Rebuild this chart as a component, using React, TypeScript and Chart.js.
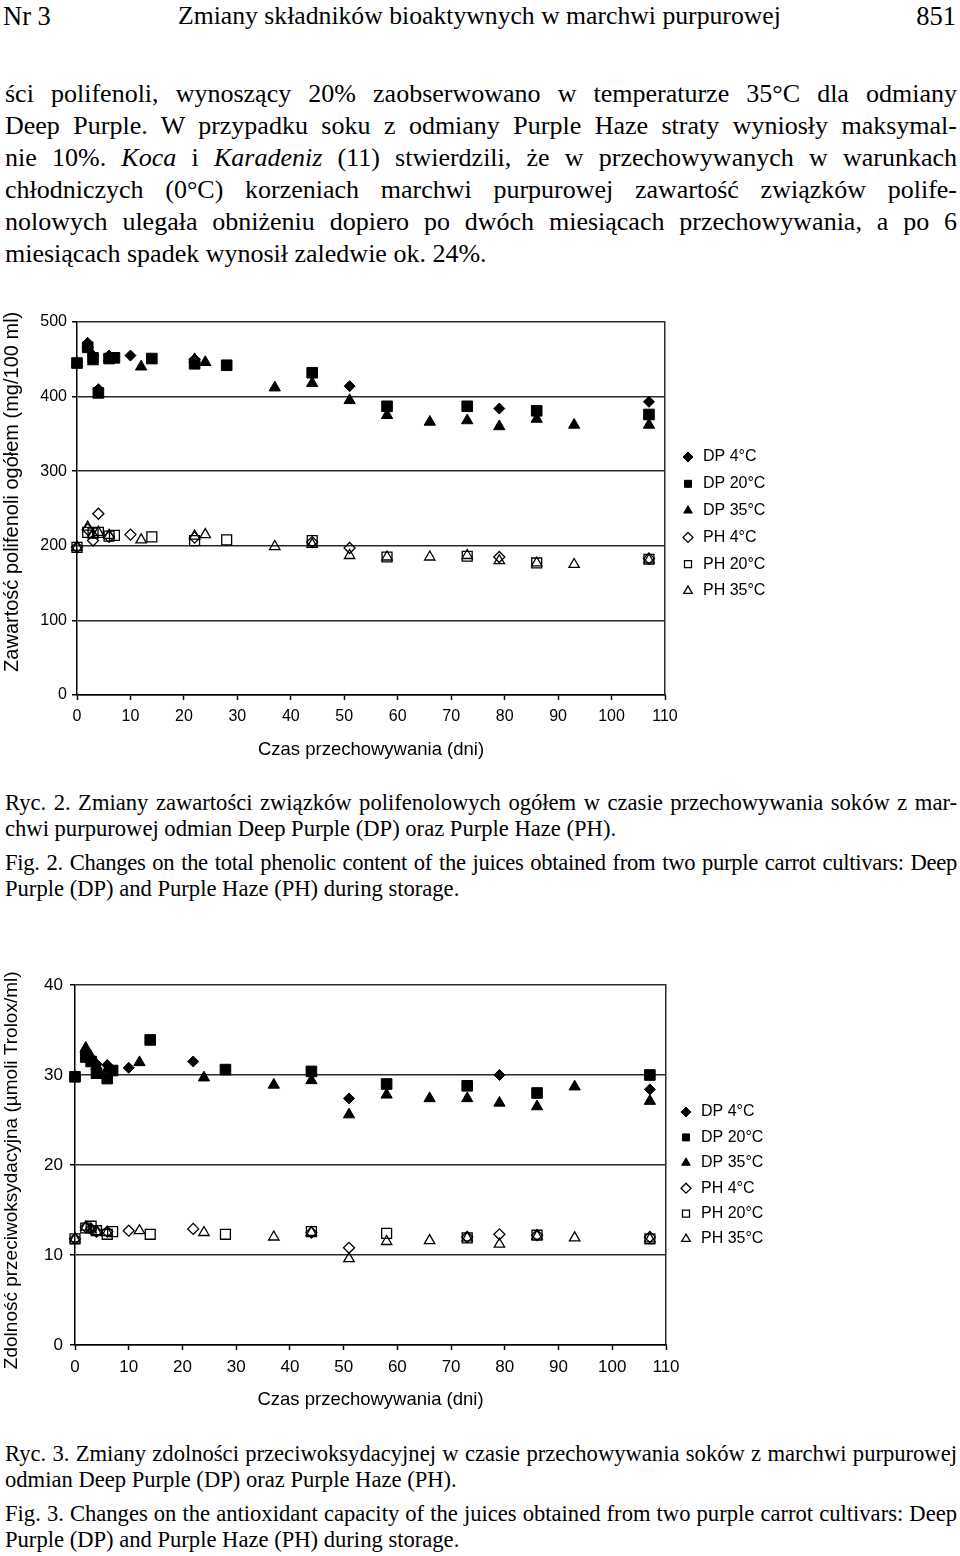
import { useEffect, useRef } from 'react';
import { Chart, registerables } from 'chart.js';

Chart.register(...registerables);

// ---------- data ----------
const SERIES_LABELS = ['DP 4°C', 'DP 20°C', 'DP 35°C', 'PH 4°C', 'PH 20°C', 'PH 35°C'];
const X_TICKS = [0, 10, 20, 30, 40, 50, 60, 70, 80, 90, 100, 110];
const PHENOL_Y_TICKS = [0, 100, 200, 300, 400, 500];
const ANTIOX_Y_TICKS = [0, 10, 20, 30, 40];
const X_TITLE = 'Czas przechowywania (dni)';
const PHENOL_Y_TITLE = 'Zawartość polifenoli ogółem (mg/100 ml)';
const ANTIOX_Y_TITLE = 'Zdolność przeciwoksydacyjna (µmoli Trolox/ml)';

// Fig. 2 – total polyphenols (mg/100 ml)
const phDP4Days = [0, 2, 3, 4, 6, 10, 22, 51, 79, 107];
const phDP4Vals = [445, 472, 455, 410, 455, 455, 450, 414, 384, 393];
const phDP20Days = [0, 2, 3, 4, 6, 7, 14, 22, 28, 44, 58, 73, 86, 107];
const phDP20Vals = [445, 466, 452, 405, 451, 452, 451, 444, 442, 432, 387, 387, 381, 376];
const phDP35Days = [0, 2, 3, 4, 6, 12, 22, 24, 37, 44, 51, 58, 66, 73, 79, 86, 93, 107];
const phDP35Vals = [445, 470, 447, 403, 452, 440, 450, 446, 412, 418, 395, 375, 366, 368, 360, 370, 362, 362];
const phPH4Days = [0, 2, 3, 4, 6, 10, 22, 44, 51, 79, 107];
const phPH4Vals = [198, 222, 207, 243, 212, 215, 211, 205, 197, 185, 183];
const phPH20Days = [0, 2, 3, 4, 6, 7, 14, 22, 28, 44, 58, 73, 86, 107];
const phPH20Vals = [198, 218, 217, 218, 213, 214, 212, 207, 208, 207, 185, 186, 177, 182];
const phPH35Days = [0, 2, 3, 4, 6, 12, 22, 24, 37, 44, 51, 58, 66, 73, 79, 86, 93, 107];
const phPH35Vals = [198, 225, 215, 218, 214, 208, 213, 215, 199, 202, 187, 185, 185, 187, 180, 177, 175, 181];

// Fig. 3 – antioxidant capacity (µmol Trolox/ml)
const axDP4Days = [0, 2, 3, 4, 6, 10, 22, 51, 79, 107];
const axDP4Vals = [29.8, 32.5, 31.8, 31.2, 31.1, 30.8, 31.5, 27.4, 30.0, 28.4];
const axDP20Days = [0, 2, 3, 4, 6, 7, 14, 28, 44, 58, 73, 86, 107];
const axDP20Vals = [29.8, 32.0, 31.5, 30.2, 29.6, 30.5, 33.9, 30.6, 30.4, 29.0, 28.8, 28.0, 30.0];
const axDP35Days = [0, 2, 3, 4, 6, 12, 24, 37, 44, 51, 58, 66, 73, 79, 86, 93, 107];
const axDP35Vals = [29.8, 33.0, 32.0, 31.0, 30.6, 31.4, 29.7, 28.9, 29.4, 25.6, 27.8, 27.4, 27.4, 26.9, 26.5, 28.7, 27.1];
const axPH4Days = [0, 2, 3, 4, 6, 10, 22, 44, 51, 73, 79, 86, 107];
const axPH4Vals = [11.8, 13.1, 12.9, 12.6, 12.6, 12.7, 12.9, 12.5, 10.8, 12.0, 12.3, 12.2, 12.0];
const axPH20Days = [0, 2, 3, 4, 6, 7, 14, 28, 44, 58, 73, 86, 107];
const axPH20Vals = [11.8, 13.0, 13.2, 12.7, 12.3, 12.6, 12.3, 12.3, 12.6, 12.4, 11.9, 12.2, 11.8];
const axPH35Days = [0, 2, 3, 4, 6, 12, 24, 37, 44, 51, 58, 66, 73, 79, 86, 93, 107];
const axPH35Vals = [11.8, 13.1, 12.8, 12.6, 12.5, 12.7, 12.5, 12.0, 12.5, 9.6, 11.5, 11.6, 11.9, 11.2, 12.1, 11.9, 11.8];

// ---------- styles ----------
const SANS = '"Liberation Sans", Arial, sans-serif';
const SERIF = '"Liberation Serif", "Times New Roman", serif';

const MARKERS = [
  { pointStyle: 'rectRot', radius: 5.5, fill: '#000', bw: 1 },
  { pointStyle: 'rect', radius: 7.5, fill: '#000', bw: 1 },
  { pointStyle: 'triangle', radius: 6.5, fill: '#000', bw: 1 },
  { pointStyle: 'rectRot', radius: 5.5, fill: 'rgba(255,255,255,0)', bw: 1.3 },
  { pointStyle: 'rect', radius: 7, fill: 'rgba(255,255,255,0)', bw: 1.3 },
  { pointStyle: 'triangle', radius: 6, fill: 'rgba(255,255,255,0)', bw: 1.3 },
];

interface Spec {
  series: { days: number[]; vals: number[] }[];
  yTicks: number[];
  yTitle: string;
  yTitleSize: number;
  yTitlePadStart: number;
  yTitlePadEnd: number;
  width: number;
  height: number;
  padTop: number;
  padRight: number;
  legendWidth: number;
  yAxisWidth: number;
  xAxisHeight: number;
  yTickPad: number;
  xTickPad: number;
  tickFont: number;
  xTitlePadBottom: number;
  legendTitleGap: number;
  legendItemGap: number;
  legendShift: number;
}

// moves the legend block a few pixels right and widens its clip box so labels are not cut
function legendShiftPlugin(dx: number, extra: number) {
  return {
    id: 'legendShift',
    afterLayout(chart: any) {
      const l = chart.legend;
      if (l) {
        l.left += dx;
        l.right += dx + extra;
      }
    },
  };
}

function makeConfig(s: Spec): any {
  const datasets = s.series.map((ser, i) => ({
    label: SERIES_LABELS[i],
    data: ser.days.map((d, j) => ({ x: d, y: ser.vals[j] })),
    pointStyle: MARKERS[i].pointStyle,
    pointRadius: MARKERS[i].radius,
    pointHoverRadius: MARKERS[i].radius,
    pointBackgroundColor: MARKERS[i].fill,
    pointBorderColor: '#000',
    pointBorderWidth: MARKERS[i].bw,
    backgroundColor: MARKERS[i].fill,
    borderColor: '#000',
    showLine: false,
    clip: false,
  }));
  const yMin = s.yTicks[0];
  const yMax = s.yTicks[s.yTicks.length - 1];
  const tickFont = { family: SANS, size: s.tickFont };
  const yTitleText = '\u00a0'.repeat(s.yTitlePadStart) + s.yTitle + '\u00a0'.repeat(s.yTitlePadEnd);
  return {
    type: 'scatter',
    data: { datasets },
    plugins: [legendShiftPlugin(s.legendShift, s.padRight - s.legendShift - 2)],
    options: {
      responsive: false,
      animation: false,
      events: [],
      layout: { padding: { top: s.padTop, left: 0, right: s.padRight, bottom: 0 } },
      plugins: {
        tooltip: { enabled: false },
        legend: {
          position: 'right',
          align: 'start',
          maxWidth: s.legendWidth,
          title: {
            display: true,
            text: ' ',
            padding: { top: s.legendTitleGap, bottom: 0 },
            font: { size: 10, lineHeight: 1 },
          },
          labels: {
            usePointStyle: true,
            boxWidth: 14,
            boxHeight: 7,
            padding: s.legendItemGap,
            color: '#000',
            font: { family: SANS, size: 16 },
          },
        },
      },
      scales: {
        x: {
          type: 'linear',
          min: X_TICKS[0],
          max: X_TICKS[X_TICKS.length - 1],
          afterBuildTicks: (sc: any) => {
            sc.ticks = X_TICKS.map((v) => ({ value: v }));
          },
          afterFit: (sc: any) => {
            sc.height = s.xAxisHeight;
          },
          ticks: { autoSkip: false, maxRotation: 0, padding: s.xTickPad, color: '#000', font: tickFont },
          grid: { drawOnChartArea: false, drawTicks: true, tickLength: 5, tickColor: '#000', tickWidth: 1.5 },
          border: { display: true, color: '#000', width: 1.5 },
          title: {
            display: true,
            text: X_TITLE,
            color: '#000',
            font: { family: SANS, size: 18.5 },
            padding: { top: 0, bottom: s.xTitlePadBottom },
          },
        },
        y: {
          type: 'linear',
          min: yMin,
          max: yMax,
          afterBuildTicks: (sc: any) => {
            sc.ticks = s.yTicks.map((v) => ({ value: v }));
          },
          afterFit: (sc: any) => {
            sc.width = s.yAxisWidth;
          },
          ticks: { padding: s.yTickPad, color: '#000', font: tickFont },
          grid: { color: '#2a2a2a', lineWidth: 1.5, drawTicks: true, tickLength: 5, tickColor: '#000', tickWidth: 1.5 },
          border: { display: true, color: '#000', width: 1.5 },
          title: {
            display: true,
            text: yTitleText,
            color: '#000',
            font: { family: SANS, size: s.yTitleSize },
            padding: { top: 0, bottom: 0 },
          },
        },
        y2: {
          type: 'linear',
          position: 'right',
          min: yMin,
          max: yMax,
          ticks: { display: false },
          grid: { display: false, drawTicks: false },
          border: { display: true, color: '#2a2a2a', width: 1.5 },
          afterFit: (sc: any) => {
            sc.width = 0;
          },
        },
      },
    },
  };
}

function ScatterChart({ spec, left, top }: { spec: Spec; left: number; top: number }) {
  const ref = useRef<HTMLCanvasElement>(null);
  useEffect(() => {
    const chart = new Chart(ref.current as HTMLCanvasElement, makeConfig(spec));
    return () => chart.destroy();
  }, []);
  return (
    <canvas
      ref={ref}
      width={spec.width}
      height={spec.height}
      style={{ position: 'absolute', left, top, width: spec.width, height: spec.height, display: 'block' }}
    />
  );
}

const phenolSpec: Spec = {
  series: [
    { days: phDP4Days, vals: phDP4Vals },
    { days: phDP20Days, vals: phDP20Vals },
    { days: phDP35Days, vals: phDP35Vals },
    { days: phPH4Days, vals: phPH4Vals },
    { days: phPH20Days, vals: phPH20Vals },
    { days: phPH35Days, vals: phPH35Vals },
  ],
  yTicks: PHENOL_Y_TICKS,
  yTitle: PHENOL_Y_TITLE,
  yTitleSize: 20,
  yTitlePadStart: 6,
  yTitlePadEnd: 0,
  width: 815,
  height: 470,
  padTop: 22,
  padRight: 60,
  legendWidth: 90,
  yAxisWidth: 77,
  xAxisHeight: 75,
  yTickPad: 5,
  xTickPad: 7,
  tickFont: 16,
  xTitlePadBottom: 9,
  legendTitleGap: 106.2,
  legendItemGap: 10.8,
  legendShift: 5.2,
};

const antioxSpec: Spec = {
  series: [
    { days: axDP4Days, vals: axDP4Vals },
    { days: axDP20Days, vals: axDP20Vals },
    { days: axDP35Days, vals: axDP35Vals },
    { days: axPH4Days, vals: axPH4Vals },
    { days: axPH20Days, vals: axPH20Vals },
    { days: axPH35Days, vals: axPH35Vals },
  ],
  yTicks: ANTIOX_Y_TICKS,
  yTitle: ANTIOX_Y_TITLE,
  yTitleSize: 19,
  yTitlePadStart: 0,
  yTitlePadEnd: 2,
  width: 816,
  height: 457,
  padTop: 22,
  padRight: 60,
  legendWidth: 90,
  yAxisWidth: 75,
  xAxisHeight: 75,
  yTickPad: 7,
  xTickPad: 7,
  tickFont: 17,
  xTitlePadBottom: 9,
  legendTitleGap: 99.6,
  legendItemGap: 9.4,
  legendShift: 3.6,
};

// ---------- page text ----------
function TextLine({
  top,
  size,
  lh,
  justify,
  tracking = 0,
  children,
}: {
  top: number;
  size: number;
  lh: number;
  justify: boolean;
  tracking?: number;
  children: any;
}) {
  return (
    <div
      style={{
        position: 'absolute',
        left: 5,
        width: 952,
        top,
        fontSize: size,
        lineHeight: `${lh}px`,
        letterSpacing: tracking ? `${tracking}px` : undefined,
        textAlign: justify ? 'justify' : 'left',
        textAlignLast: justify ? 'justify' : 'left',
      }}
    >
      {children}
    </div>
  );
}

const CAP = 22.6;

export default function App() {
  const bodyTop = 78;
  const bl = 32;
  return (
    <div
      style={{
        position: 'absolute',
        left: 0,
        top: 0,
        width: 960,
        height: 1556,
        overflow: 'hidden',
        background: '#fff',
        color: '#000',
        fontFamily: SERIF,
      }}
    >
      <div style={{ position: 'absolute', left: 3, top: 1, fontSize: 26.5, lineHeight: '30px' }}>Nr 3</div>
      <div style={{ position: 'absolute', left: 178, top: 1, fontSize: 25.7, lineHeight: '30px', whiteSpace: 'nowrap' }}>
        Zmiany składników bioaktywnych w marchwi purpurowej
      </div>
      <div style={{ position: 'absolute', right: 4, top: 1, fontSize: 26.5, lineHeight: '30px' }}>851</div>

      <TextLine top={bodyTop} size={26} lh={bl} justify>
        ści polifenoli, wynoszący 20% zaobserwowano w temperaturze 35°C dla odmiany
      </TextLine>
      <TextLine top={bodyTop + bl} size={26} lh={bl} justify>
        Deep Purple. W przypadku soku z odmiany Purple Haze straty wyniosły maksymal-
      </TextLine>
      <TextLine top={bodyTop + bl * 2} size={26} lh={bl} justify>
        nie 10%. <i>Koca</i> i <i>Karadeniz</i> (11) stwierdzili, że w przechowywanych w warunkach
      </TextLine>
      <TextLine top={bodyTop + bl * 3} size={26} lh={bl} justify>
        chłodniczych (0°C) korzeniach marchwi purpurowej zawartość związków polife-
      </TextLine>
      <TextLine top={bodyTop + bl * 4} size={26} lh={bl} justify>
        nolowych ulegała obniżeniu dopiero po dwóch miesiącach przechowywania, a po 6
      </TextLine>
      <TextLine top={bodyTop + bl * 5} size={26} lh={bl} justify={false}>
        miesiącach spadek wynosił zaledwie ok. 24%.
      </TextLine>

      <ScatterChart spec={phenolSpec} left={0} top={300} />

      <TextLine top={789.5} size={CAP} lh={26} justify>
        Ryc. 2. Zmiany zawartości związków polifenolowych ogółem w czasie przechowywania soków z mar-
      </TextLine>
      <TextLine top={815.5} size={CAP} lh={26} justify={false}>
        chwi purpurowej odmian Deep Purple (DP) oraz Purple Haze (PH).
      </TextLine>
      <TextLine top={849.5} size={CAP} lh={26} justify tracking={-0.3}>
        Fig. 2. Changes on the total phenolic content of the juices obtained from two purple carrot cultivars: Deep
      </TextLine>
      <TextLine top={875.5} size={CAP} lh={26} justify={false}>
        Purple (DP) and Purple Haze (PH) during storage.
      </TextLine>

      <ScatterChart spec={antioxSpec} left={0} top={963} />

      <TextLine top={1440.5} size={CAP} lh={26} justify>
        Ryc. 3. Zmiany zdolności przeciwoksydacyjnej w czasie przechowywania soków z marchwi purpurowej
      </TextLine>
      <TextLine top={1466.5} size={CAP} lh={26} justify={false}>
        odmian Deep Purple (DP) oraz Purple Haze (PH).
      </TextLine>
      <TextLine top={1500.5} size={CAP} lh={26} justify>
        Fig. 3. Changes on the antioxidant capacity of the juices obtained from two purple carrot cultivars: Deep
      </TextLine>
      <TextLine top={1526.5} size={CAP} lh={26} justify={false}>
        Purple (DP) and Purple Haze (PH) during storage.
      </TextLine>
    </div>
  );
}
